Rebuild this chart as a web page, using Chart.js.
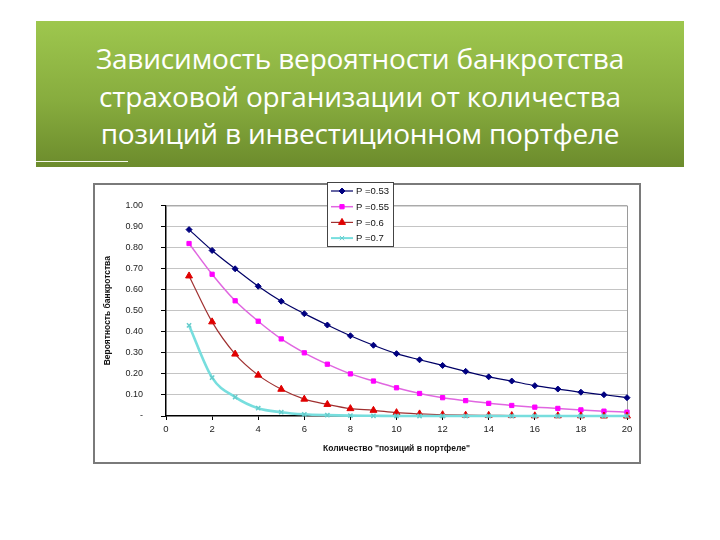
<!DOCTYPE html>
<html>
<head>
<meta charset="utf-8">
<script src="https://cdn.jsdelivr.net/npm/chart.js@4"></script>
<style>
  html, body { margin: 0; padding: 0; background: #ffffff; }
  body { width: 720px; height: 540px; position: relative; overflow: hidden; }
  #banner {
    position: absolute; left: 36px; top: 21px; width: 648px; height: 146px;
    background: linear-gradient(to bottom, #9ec74e 0%, #87ac3e 55%, #6c8b2c 100%);
  }
  #banner .title {
    position: absolute; left: 0; top: 19px; width: 100%;
    text-align: center; color: #ffffff;
    font-family: "Open Sans", "Noto Sans", sans-serif; font-size: 28px;
    line-height: 37.5px; letter-spacing: -0.2px;
  }
  #banner .rule {
    position: absolute; left: 0; top: 140px; width: 92px; height: 1px; background: #f4f8ea;
  }
  #chartBox { position: absolute; left: 92px; top: 182px; width: 550px; height: 283px; }
</style>
</head>
<body>
<div id="banner">
  <div class="title">Зависимость вероятности банкротства<br>страховой организации от количества<br>позиций в инвестиционном портфеле</div>
  <div class="rule"></div>
</div>
<div id="chartBox"><canvas id="chart"></canvas></div>

<script>
//--------------------Data-------------------
const positions = [1, 2, 3, 4, 5, 6, 7, 8, 9, 10, 11, 12, 13, 14, 15, 16, 17, 18, 19, 20];
const seriesLabels = ["P =0.53", "P =0.55", "P =0.6", "P =0.7"];

const p053 = [0.885, 0.786, 0.699, 0.616, 0.545, 0.486, 0.432, 0.381, 0.336, 0.296,
              0.267, 0.240, 0.212, 0.186, 0.166, 0.144, 0.128, 0.113, 0.101, 0.087];
const p055 = [0.819, 0.673, 0.547, 0.450, 0.366, 0.300, 0.246, 0.200, 0.166, 0.134,
              0.107, 0.087, 0.073, 0.060, 0.050, 0.042, 0.036, 0.029, 0.023, 0.018];
const p060 = [0.665, 0.447, 0.294, 0.194, 0.127, 0.080, 0.055, 0.035, 0.027, 0.016,
              0.010, 0.006, 0.004, 0.003, 0.002, 0.001, 0.001, 0.001, 0.000, 0.000];
const p070 = [0.430, 0.182, 0.090, 0.037, 0.018, 0.008, 0.004, 0.002, 0.001, 0.000,
              0.000, 0.000, 0.000, 0.000, 0.000, 0.000, 0.000, 0.000, 0.000, 0.000];

const yTicks = [0, 0.1, 0.2, 0.3, 0.4, 0.5, 0.6, 0.7, 0.8, 0.9, 1.0];
const xTicks = [0, 2, 4, 6, 8, 10, 12, 14, 16, 18, 20];

const yTitle = "Вероятность банкротства";
const xTitle = "Количество \"позиций в портфеле\"";

// Styles
const lineColors = ["#000066", "#e066e0", "#a03030", "#77dede"];
const markerColors = ["#000080", "#ff00ff", "#e00000", "#66cccc"];
const markerStyles = ["rectRot", "rect", "triangle", "crossRot"];
const markerSizes = [3, 3, 4, 3];
const lineWidths = [1.2, 1.5, 1.2, 2.6];
const drawOrder = [3, 2, 1, 0];

const FONT = "'Liberation Sans', Arial, sans-serif";

// ----------------Functions-------------------
function toPoints(values) {
  return positions.map((x, i) => ({ x: x, y: values[i] }));
}

function buildDatasets() {
  const all = [p053, p055, p060, p070];
  return all.map((values, i) => ({
    label: seriesLabels[i],
    data: toPoints(values),
    borderColor: lineColors[i],
    backgroundColor: markerColors[i],
    pointBorderColor: markerColors[i],
    pointBackgroundColor: markerColors[i],
    pointStyle: markerStyles[i],
    pointRadius: markerSizes[i],
    pointBorderWidth: i === 3 ? 1.5 : 1,
    borderWidth: lineWidths[i],
    cubicInterpolationMode: "monotone",
    order: drawOrder[i],
    clip: false
  }));
}

// frame, plot border and legend box
const framePlugin = {
  id: "frame",
  beforeDraw(chart) {
    const ctx = chart.ctx;
    ctx.save();
    ctx.fillStyle = "#ffffff";
    ctx.fillRect(0, 0, chart.width, chart.height);
    ctx.strokeStyle = "#7a7a7a";
    ctx.lineWidth = 2;
    ctx.strokeRect(2, 2, chart.width - 4, chart.height - 4);
    ctx.restore();
  },
  beforeDatasetsDraw(chart) {
    const a = chart.chartArea;
    const ctx = chart.ctx;
    ctx.save();
    ctx.strokeStyle = "#9a9a9a";
    ctx.lineWidth = 1;
    ctx.beginPath();
    ctx.moveTo(a.left, a.top + 0.5);
    ctx.lineTo(a.right + 0.5, a.top + 0.5);
    ctx.lineTo(a.right + 0.5, a.bottom);
    ctx.stroke();
    ctx.restore();
  },
  afterDraw(chart) {
    const ctx = chart.ctx;
    const left = 235, top = 0, w = 66, h = 64;
    ctx.save();
    ctx.fillStyle = "#ffffff";
    ctx.fillRect(left, top, w, h);
    ctx.strokeStyle = "#444444";
    ctx.lineWidth = 1;
    ctx.strokeRect(left + 0.5, top + 0.5, w, h);
    ctx.font = "9.5px " + FONT;
    ctx.textBaseline = "middle";
    chart.data.datasets.forEach((ds, i) => {
      const y = 9 + i * 15.7;
      ctx.strokeStyle = ds.borderColor;
      ctx.lineWidth = Math.min(ds.borderWidth, 2);
      ctx.beginPath();
      ctx.moveTo(left + 4, y);
      ctx.lineTo(left + 26, y);
      ctx.stroke();
      ctx.fillStyle = ds.pointBackgroundColor;
      ctx.strokeStyle = ds.pointBorderColor;
      ctx.lineWidth = 1;
      Chart.helpers.drawPoint(ctx, {
        pointStyle: ds.pointStyle, radius: ds.pointRadius, rotation: 0, borderWidth: 1
      }, left + 15, y);
      ctx.fillStyle = "#111111";
      ctx.fillText(ds.label, left + 29, y + 0.5);
    });
    ctx.restore();
  }
};

function createChart() {
  const ctx = document.getElementById("chart").getContext("2d");

  const config = {
    type: "line",
    data: { datasets: buildDatasets() },
    options: {
      animation: false,
      responsive: true,
      maintainAspectRatio: false,
      layout: { padding: { top: 17, right: 15, left: 0, bottom: 0 } },
      plugins: {
        legend: { display: false },
        tooltip: { enabled: false }
      },
      scales: {
        x: {
          type: "linear",
          min: 0,
          max: 20,
          afterFit: (scale) => { scale.height = 49; },
          afterBuildTicks: (scale) => { scale.ticks = xTicks.map((v) => ({ value: v })); },
          grid: { display: true, drawOnChartArea: false, tickLength: 4, color: "#000000" },
          border: { color: "#000000", width: 1.5 },
          ticks: {
            padding: 4,
            color: "#222222",
            font: { family: FONT, size: 9.5 },
            maxRotation: 0,
            callback: (v) => String(v)
          },
          title: {
            display: true,
            text: xTitle,
            color: "#111111",
            font: { family: FONT, size: 8.5, weight: "bold" },
            padding: { top: 0, bottom: 11 }
          }
        },
        y: {
          type: "linear",
          min: 0,
          max: 1,
          afterFit: (scale) => { scale.width = 74; },
          afterBuildTicks: (scale) => { scale.ticks = yTicks.map((v) => ({ value: v })); },
          grid: {
            color: (c) => (c.tick && c.tick.value === 0 ? "rgba(0,0,0,0)" : "#c4c4c4"),
            borderDash: [2, 3],
            tickColor: "#000000",
            tickBorderDash: [],
            tickLength: 5
          },
          border: { color: "#000000", width: 1.5 },
          ticks: {
            padding: 18,
            color: "#222222",
            font: { family: FONT, size: 9 },
            callback: (v) => (v === 0 ? "-" : v.toFixed(2))
          },
          title: {
            display: true,
            text: yTitle,
            color: "#111111",
            font: { family: FONT, size: 8.5, weight: "bold" },
            padding: { top: 11, bottom: 0 }
          }
        }
      }
    },
    plugins: [framePlugin]
  };

  return new Chart(ctx, config);
}

document.addEventListener("DOMContentLoaded", function () {
  createChart();
});
</script>
</body>
</html>
